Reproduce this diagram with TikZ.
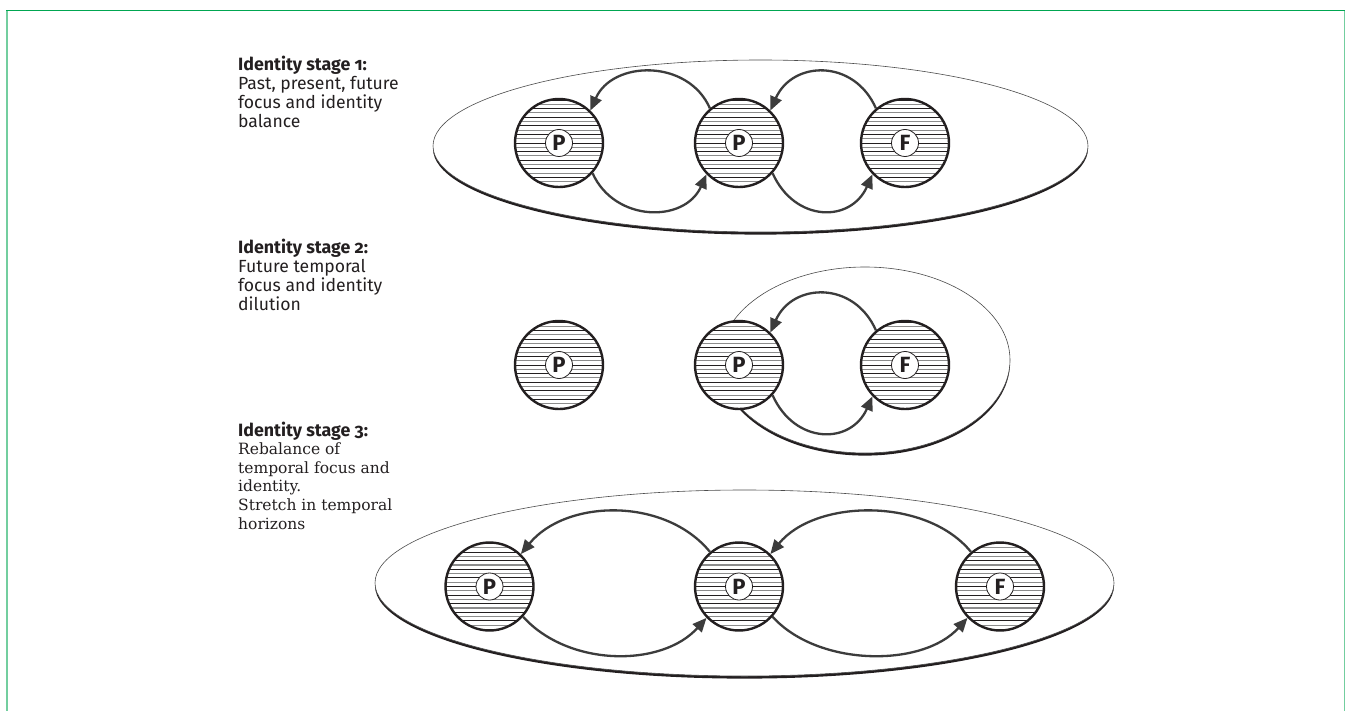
\documentclass[tikz,border=0pt]{standalone}
\usepackage{fontspec}
\setmainfont{Fira Sans}
\newfontfamily\headfont[Numbers=OldStyle]{Fira Sans}
\newfontfamily\bodysans{Fira Sans}
\newfontfamily\bodyserif{DejaVu Serif}
\usetikzlibrary{arrows.meta}
\definecolor{frameg}{RGB}{0,166,81}
\definecolor{ink}{RGB}{35,31,32}
\definecolor{arrowink}{RGB}{60,60,60}

% ellipse with a darker, heavier lower rim
\newcommand\rimellipse[4]{%
  \fill[ink] (#1,#2-2.6) ellipse [x radius=#3, y radius=#4];
  \fill[white] (#1,#2) ellipse [x radius=#3, y radius=#4];
  \draw[black!70, line width=0.6pt] (#1,#2) ellipse [x radius=#3, y radius=#4];
}
\newcommand\textlines[1]{\vtop{\baselineskip=19pt\lineskiplimit=-10pt #1}}
\newcommand\headline{\headfont\bfseries\fontsize{17.8}{19}\selectfont}
\newcommand\sansline{\bodysans\fontsize{17.6}{19}\selectfont}
\newcommand\serifline{\bodyserif\fontsize{15.5}{18.6}\selectfont}

\tikzset{
  disc/.style={circle, minimum size=88pt, inner sep=0pt, line width=2.4pt,
    draw=ink, fill=white,
    path picture={
      \foreach \k in {-5,...,5}{
        \draw[ink, line width=0.9pt]
          ([yshift=\k*8.6pt]path picture bounding box.west) --
          ([yshift=\k*8.6pt]path picture bounding box.east);
        \draw[black!45, line width=1.1pt]
          ([yshift=\k*8.6pt+4.3pt]path picture bounding box.west) --
          ([yshift=\k*8.6pt+4.3pt]path picture bounding box.east);
      }}},
  tag/.style={circle, draw=ink, line width=0.8pt, fill=white,
    minimum size=27pt, inner sep=0pt, text=ink,
    font=\headfont\bfseries\fontsize{22}{22}\selectfont},
  arr/.style={draw=arrowink, line width=2.3pt,
    -{Triangle[length=14pt,width=12pt]}},
  caption/.style={anchor=base west, inner sep=0pt, text=ink},
}

\begin{document}
\begin{tikzpicture}[x=1pt,y=1pt]
\useasboundingbox (0,0) rectangle (1346,-711);

% frame
\draw[frameg!55, line width=1.6pt] (7,-711) -- (7,-10.5);
\draw[frameg!55, line width=1.6pt] (1344.5,-711) -- (1344.5,-10.5);
\draw[frameg, line width=1.6pt] (6.2,-10.5) -- (1345.3,-10.5);

% enclosing ellipses
\rimellipse{760.5}{-146}{327.5}{86}
\rimellipse{865}{-360}{145}{93}
\rimellipse{744.5}{-583}{369.5}{93}

% stage 1
\node[disc] (a1) at (559,-143) {};
\node[disc] (b1) at (739,-143) {};
\node[disc] (c1) at (905,-143) {};
\node[tag] (a1t) at (a1) {P};
\node[tag] (b1t) at (b1) {P};
\node[tag] (c1t) at (c1) {F};
\draw[arr] (b1.130) .. controls +(-22,50) and +(22,50) .. (a1.46);
\draw[arr] (c1.130) .. controls +(-22,50) and +(22,50) .. (b1.46);
\draw[arr] (a1.-42) .. controls +(22,-49) and +(-22,-49) .. (b1.-136);
\draw[arr] (b1.-42) .. controls +(22,-49) and +(-22,-49) .. (c1.-136);

% stage 2
\node[disc] (a2) at (559,-365) {};
\node[disc] (b2) at (739,-365) {};
\node[disc] (c2) at (905,-365) {};
\node[tag] (a2t) at (a2) {P};
\node[tag] (b2t) at (b2) {P};
\node[tag] (c2t) at (c2) {F};
\draw[arr] (c2.130) .. controls +(-22,50) and +(22,50) .. (b2.46);
\draw[arr] (b2.-42) .. controls +(22,-49) and +(-22,-49) .. (c2.-136);

% stage 3
\node[disc] (a3) at (489.5,-586.5) {};
\node[disc] (b3) at (739,-586.5) {};
\node[disc] (c3) at (1000,-586.5) {};
\node[tag] (a3t) at (a3) {P};
\node[tag] (b3t) at (b3) {P};
\node[tag] (c3t) at (c3) {F};
\draw[arr] (b3.130) .. controls +(-45,55) and +(45,55) .. (a3.46);
\draw[arr] (c3.130) .. controls +(-45,55) and +(45,55) .. (b3.46);
\draw[arr] (a3.-42) .. controls +(45,-50) and +(-45,-50) .. (b3.-136);
\draw[arr] (b3.-42) .. controls +(45,-50) and +(-45,-50) .. (c3.-136);

% captions
\node[caption] (s1) at (238,-71) {\textlines{%
  \hbox{\headline Identity stage 1:}
  \hbox{\sansline Past, present, future}
  \hbox{\sansline focus and identity}
  \hbox{\sansline balance}}};
\node[caption] (s2) at (238,-254) {\textlines{%
  \hbox{\headline Identity stage 2:}
  \hbox{\sansline Future temporal}
  \hbox{\sansline focus and identity}
  \hbox{\sansline dilution}}};
\node[caption] (s3) at (238,-436) {\vtop{\baselineskip=18.6pt\lineskiplimit=-10pt
  \hbox{\headline Identity stage 3:}
  \hbox{\serifline Rebalance of}
  \hbox{\serifline temporal focus and}
  \hbox{\serifline identity.}
  \hbox{\serifline Stretch in temporal}
  \hbox{\serifline horizons}}};
\end{tikzpicture}
\end{document}
